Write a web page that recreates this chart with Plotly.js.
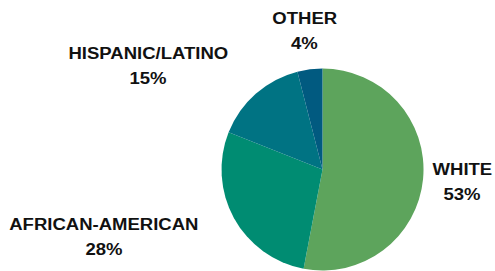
<!DOCTYPE html>
<html>
<head>
<meta charset="utf-8">
<script src="https://cdn.plot.ly/plotly-3.0.1.min.js"></script>
<style>
html,body{margin:0;padding:0;background:#fff;}
#chart{width:495px;height:271px;}
#chart .annotation-text{transform-box:fill-box;transform-origin:center;transform:scaleX(1.09);}
</style>
</head>
<body>
<div id="chart"></div>
<script>
const categories = ["WHITE", "AFRICAN-AMERICAN", "HISPANIC/LATINO", "OTHER"];
const values = [53, 28, 15, 4];
const colors = ["#5DA45C", "#008C72", "#007383", "#015A80"];
const labelPos = [
  [0.934, 0.327],
  [0.211, 0.124],
  [0.299, 0.758],
  [0.616, 0.887]
];

const trace = {
  type: "pie",
  values: values,
  labels: categories,
  marker: { colors: colors, line: { width: 0 } },
  sort: false,
  direction: "clockwise",
  rotation: 0,
  textinfo: "none",
  hoverinfo: "label+percent",
  domain: { x: [0.4475, 0.8556], y: [0.0018, 0.7472] },
  showlegend: false
};

const font = { family: "Liberation Sans, Arial, sans-serif", size: 17, color: "#111111" };
const annotations = [];
categories.forEach((c, i) => {
  annotations.push({
    xref: "paper", yref: "paper",
    x: labelPos[i][0], y: labelPos[i][1],
    xanchor: "center", yanchor: "middle",
    yshift: 12.5,
    text: "<b>" + c + "</b>",
    showarrow: false, font: font
  });
  annotations.push({
    xref: "paper", yref: "paper",
    x: labelPos[i][0], y: labelPos[i][1],
    xanchor: "center", yanchor: "middle",
    yshift: -12.5,
    text: "<b>" + values[i] + "%</b>",
    showarrow: false, font: font
  });
});

const layout = {
  width: 495, height: 271,
  margin: { l: 0, r: 0, t: 0, b: 0 },
  paper_bgcolor: "#ffffff",
  plot_bgcolor: "#ffffff",
  annotations: annotations,
  showlegend: false
};

Plotly.newPlot("chart", [trace], layout, { displayModeBar: false, staticPlot: true });
</script>
</body>
</html>
